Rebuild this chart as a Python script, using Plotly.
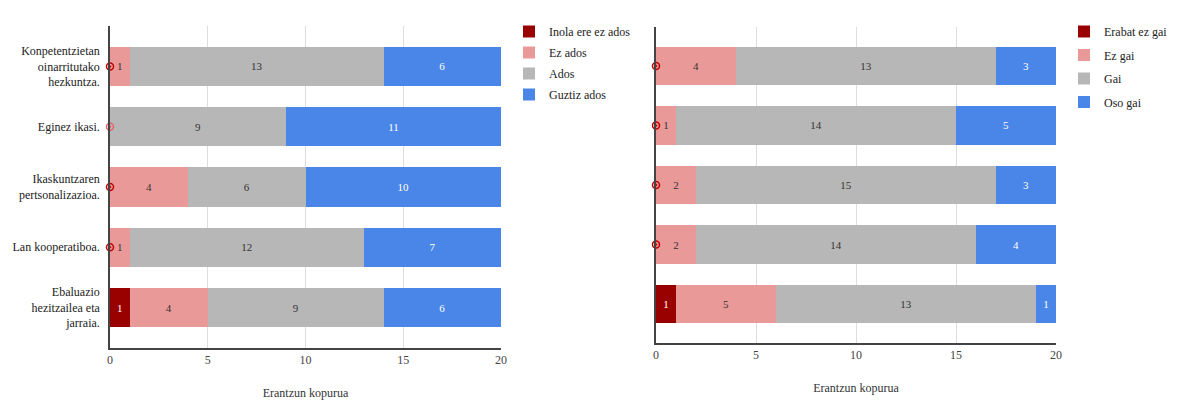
import plotly.graph_objects as go

# ---- data ----
categories = ["Konpetentzietan<br>oinarritutako<br>hezkuntza.",
              "Eginez ikasi.",
              "Ikaskuntzaren<br>pertsonalizazioa.",
              "Lan kooperatiboa.",
              "Ebaluazio<br>hezitzailea eta<br>jarraia."]
left_series = ["Inola ere ez ados", "Ez ados", "Ados", "Guztiz ados"]
left_values = [
    [0, 0, 0, 0, 1],
    [1, 0, 4, 1, 4],
    [13, 9, 6, 12, 9],
    [6, 11, 10, 7, 6],
]
right_categories = ["R1", "R2", "R3", "R4", "R5"]
right_series = ["Erabat ez gai", "Ez gai", "Gai", "Oso gai"]
right_values = [
    [0, 0, 0, 0, 1],
    [4, 1, 2, 2, 5],
    [13, 14, 15, 14, 13],
    [3, 5, 3, 4, 1],
]
x_ticks = [0, 5, 10, 15, 20]
axis_title = "Erantzun kopurua"

colors = ["#990000", "#ea9999", "#b7b7b7", "#4a86e8"]
text_colors = ["#ffffff", "#333333", "#333333", "#ffffff"]
FONT = "Liberation Serif"

fig = go.Figure()

def add_bars(cats, series, values, xa, ya, legend, width):
    for i, (name, vals) in enumerate(zip(series, values)):
        fig.add_trace(go.Bar(
            y=cats, x=vals, name=name, orientation="h",
            marker=dict(color=colors[i], line=dict(width=0)),
            width=width,
            text=[str(v) if v != 0 else "" for v in vals],
            textposition="inside", insidetextanchor="middle", textangle=0,
            textfont=dict(family=FONT, size=11, color=text_colors[i]),
            constraintext="none",
            xaxis=xa, yaxis=ya, legend=legend, legendgroup=legend + name,
            hoverinfo="skip",
        ))
    # zero-value markers at x = 0
    zy, zc = [], []
    for j, c in enumerate(cats):
        nz = sum(1 for v in values if v[j] == 0)
        if nz >= 1:
            zy.append(c)
            zc.append("#c00000" if nz == 1 else "#e06666")
    fig.add_trace(go.Scatter(
        x=[0] * len(zy), y=zy, mode="markers",
        marker=dict(symbol="circle-open-dot", size=7, color=zc, line=dict(width=1.5, color=zc)),
        showlegend=False, xaxis=xa, yaxis=ya, hoverinfo="skip", cliponaxis=False,
    ))

add_bars(categories, left_series, left_values, "x", "y", "legend", 0.65)
add_bars(right_categories, right_series, right_values, "x2", "y2", "legend2", 0.64)

W, H = 1182, 412
axis_common = dict(
    range=[0, 20], tickvals=x_ticks, ticktext=[str(t) for t in x_ticks],
    showgrid=True, gridcolor="#dddddd", gridwidth=1,
    showline=True, linecolor="#444444", linewidth=1.5,
    zeroline=False, tickfont=dict(family=FONT, size=12, color="#444444"),
    ticks="", title=dict(text=axis_title, font=dict(family=FONT, size=12, color="#333333"), standoff=22),
)

fig.update_layout(
    width=W, height=H, margin=dict(l=0, r=0, t=0, b=0, autoexpand=False),
    paper_bgcolor="white", plot_bgcolor="white",
    barmode="stack", bargap=0.35,
    font=dict(family=FONT, color="#222222"),
    xaxis=dict(domain=[110 / W, 501 / W], anchor="y", **axis_common),
    xaxis2=dict(domain=[656 / W, 1056 / W], anchor="y2", **axis_common),
    yaxis=dict(domain=[(H - 348) / H, (H - 26) / H], anchor="x",
               range=[4.672, -0.672], showline=True, linecolor="#444444", linewidth=1.5,
               showgrid=False, ticks="outside", ticklen=6, tickcolor="rgba(0,0,0,0)",
               tickfont=dict(family=FONT, size=12, color="#222222")),
    yaxis2=dict(domain=[(H - 343) / H, (H - 27) / H], anchor="x2",
                range=[4.655, -0.655], showline=True, linecolor="#444444", linewidth=1.5,
                showgrid=False, showticklabels=False),
    legend=dict(x=509 / W, y=1 - 17 / H, xanchor="left", yanchor="top",
                font=dict(family=FONT, size=12, color="#222222"),
                traceorder="grouped", tracegroupgap=2, bgcolor="rgba(0,0,0,0)"),
    legend2=dict(x=1064 / W, y=1 - 17 / H, xanchor="left", yanchor="top",
                 font=dict(family=FONT, size=12, color="#222222"),
                 traceorder="grouped", tracegroupgap=4.5, bgcolor="rgba(0,0,0,0)"),
)

fig.write_html("out.html")
